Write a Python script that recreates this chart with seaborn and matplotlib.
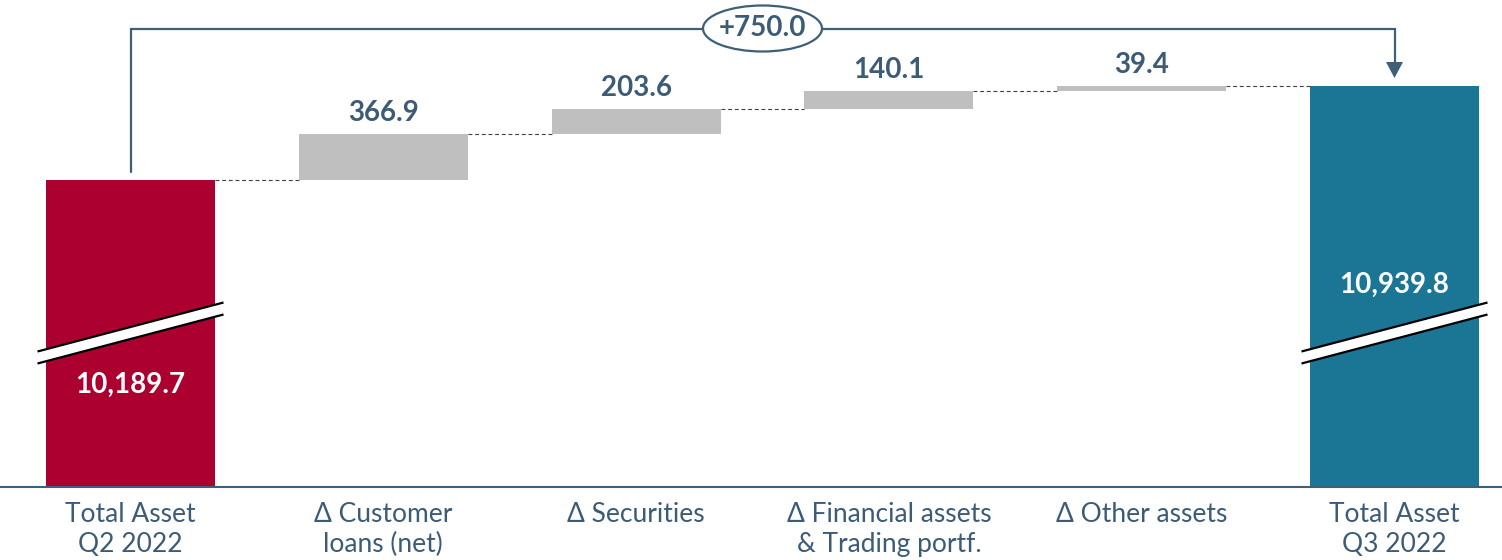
import matplotlib
matplotlib.use("Agg")
import matplotlib.pyplot as plt
import seaborn as sns
import pandas as pd
from matplotlib.patches import Polygon, Ellipse

# ---- data ----
categories = ["Total Asset\nQ2 2022", "Δ Customer\nloans (net)", "Δ Securities",
              "Δ Financial assets\n& Trading portf.", "Δ Other assets", "Total Asset\nQ3 2022"]
start_total = 10189.7
deltas = [366.9, 203.6, 140.1, 39.4]
end_total = 10939.8
total_change = 750.0
total_labels = ["10,189.7", "10,939.8"]
delta_labels = ["366.9", "203.6", "140.1", "39.4"]
change_label = "+750.0"

# ---- styling ----
sns.set_theme(style="white")
plt.rcParams['font.family'] = ['Lato', 'DejaVu Sans']
RED = "#AB0030"
TEAL = "#1B7696"
GREY = "#BFBFBF"
TXT = "#3B5B76"
LINE = "#3D5F78"

W, H, DPI = 15.02, 5.6, 100
fig = plt.figure(figsize=(W, H), dpi=DPI)
ax = fig.add_axes([0, 73 / 560, 1, 487 / 560])

ymin, ymax = 7740, 11626
px_per_x = 252.8
units_per_px = (ymax - ymin) / 487.0
bar_w = 0.668

# compute tops and bottoms
tops, bottoms = [start_total], [ymin]
level = start_total
for d in deltas:
    bottoms.append(level)
    level += d
    tops.append(level)
tops.append(end_total)
bottoms.append(ymin)

df = pd.DataFrame({"cat": categories, "top": tops})
colors = [RED] + [GREY] * len(deltas) + [TEAL]
sns.barplot(data=df, x="cat", y="top", hue="cat", palette=colors, legend=False,
            width=bar_w, ax=ax, saturation=1, linewidth=0)

for i, cont in enumerate(ax.containers):
    for p in cont.patches:
        p.set_y(bottoms[i])
        p.set_height(tops[i] - bottoms[i])
        p.set_edgecolor("none")

ax.set_ylim(ymin, ymax)
ax.set_xlim(-130.5 / px_per_x, 5 + (1502 - 1394.5) / px_per_x)

# connectors
for i in range(len(categories) - 1):
    lvl = tops[i]
    ax.plot([i + bar_w / 2, i + 1 - bar_w / 2], [lvl, lvl], color="#404040",
            lw=0.8, ls=(0, (3.5, 2.5)), zorder=1)

LBL = 20
# delta labels
for i, lab in enumerate(delta_labels):
    ax.text(i + 1, tops[i + 1] + 21 * units_per_px, lab, ha="center", va="center",
            fontsize=LBL, fontweight="bold", color=TXT)

# break marks
brk_y = ymin + (487 - 333) * units_per_px
half_w = 93 / px_per_x
half_rise = 24.5 * units_per_px
gap = 12 * units_per_px
for xc in [0, 5]:
    xs = [xc - half_w, xc + half_w]
    y_top = [brk_y + gap / 2 - half_rise, brk_y + gap / 2 + half_rise]
    y_bot = [brk_y - gap / 2 - half_rise, brk_y - gap / 2 + half_rise]
    poly = Polygon([(xs[0], y_bot[0]), (xs[1], y_bot[1]), (xs[1], y_top[1]), (xs[0], y_top[0])],
                   closed=True, facecolor="white", edgecolor="none", zorder=3)
    ax.add_patch(poly)
    ax.plot(xs, y_top, color="black", lw=1.6, zorder=4, solid_capstyle="butt")
    ax.plot(xs, y_bot, color="black", lw=1.6, zorder=4, solid_capstyle="butt")

# total labels
ax.text(0, brk_y - 52 * units_per_px, total_labels[0], ha="center", va="center",
        fontsize=LBL, fontweight="bold", color="white", zorder=5)
ax.text(5, brk_y + 48 * units_per_px, total_labels[1], ha="center", va="center",
        fontsize=LBL, fontweight="bold", color="white", zorder=5)

# bracket
y_start = start_total + 8 * units_per_px
y_br = ymin + (487 - 28.5) * units_per_px
arrow_tip = end_total + 8 * units_per_px
head_h = 16 * units_per_px
head_hw = 8.5 / px_per_x
ax.plot([0, 0, 5, 5], [y_start, y_br, y_br, arrow_tip + head_h], color=LINE, lw=1.6,
        zorder=2, solid_joinstyle="miter")
ax.add_patch(Polygon([(5 - head_hw, arrow_tip + head_h), (5 + head_hw, arrow_tip + head_h),
                      (5, arrow_tip)], closed=True, facecolor=LINE, edgecolor="none", zorder=3))
ax.add_patch(Ellipse((2.5, y_br), 119 / px_per_x, 46 * units_per_px, facecolor="white",
                     edgecolor=LINE, lw=1.6, zorder=4))
ax.text(2.5, y_br, change_label, ha="center", va="center", fontsize=LBL, fontweight="bold",
        color=TXT, zorder=5)

# axes styling
for s in ["left", "top", "right"]:
    ax.spines[s].set_visible(False)
ax.spines["bottom"].set_color(LINE)
ax.spines["bottom"].set_linewidth(1.5)
ax.set_yticks([])
ax.set_xlabel("")
ax.set_ylabel("")
ax.tick_params(axis="x", length=0, pad=10.5, labelsize=19, labelcolor=TXT)
for t in ax.get_xticklabels():
    t.set_linespacing(1.25)

fig.savefig("out.png", dpi=DPI)
